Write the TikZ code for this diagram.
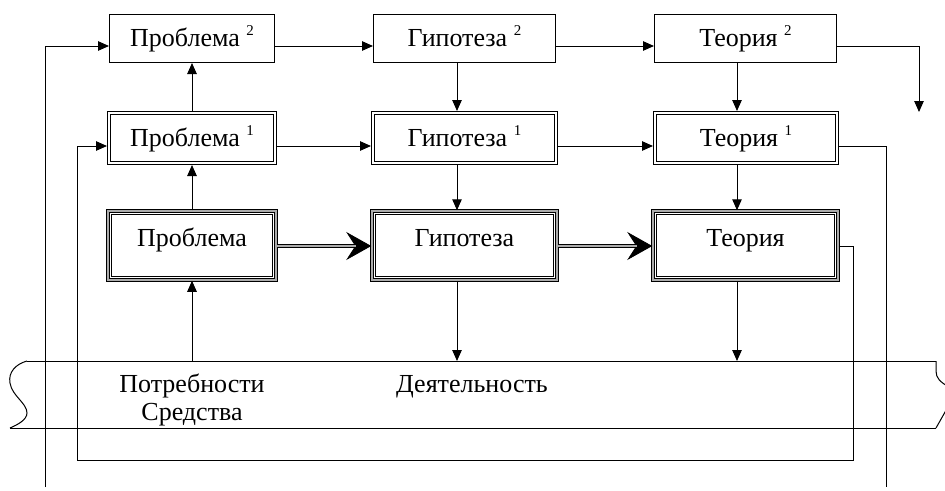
\documentclass[tikz,border=0pt]{standalone}
\usepackage{fontspec}
\setmainfont{Liberation Serif}
\usetikzlibrary{arrows.meta}
\newcommand\supnum[1]{\ \raisebox{0.42em}{\fontsize{15}{15}\selectfont #1}}
\tikzset{
  arr/.style={line width=1pt, -{Triangle[length=11pt,width=9.5pt]}},
  ln/.style={line width=1pt},
  plainbox/.style={draw, line width=1pt, inner sep=0pt, text height=15pt, text depth=0pt},
  dblbox/.style={draw, line width=1pt, inner sep=0pt, text height=16pt, text depth=0pt},
  triplebox/.style={draw, line width=1pt, double=gray!65, double distance=1.6pt,
    inner sep=0pt, text height=8.5pt, text depth=7.5pt},
  innerline/.style={line width=1.2pt},
  thinline/.style={line width=0.9pt},
  bigtip/.style={line width=0.8pt, -{Stealth[length=25pt,width=28pt,inset=9pt]}},
  doubleshaft/.style={line width=1pt, double=gray!65, double distance=1.5pt},
}
\begin{document}
\begin{tikzpicture}[x=1pt, y=-1pt, font=\fontsize{26}{30}\selectfont]
\useasboundingbox (0,0) rectangle (945,490);
\clip (0,0) rectangle (945,490);

% columns of the vertical links
\coordinate (pcol) at (192,0);
\coordinate (hcol) at (457,0);
\coordinate (tcol) at (737,0);

% top level
\node[plainbox, minimum width=165pt, minimum height=48pt] (p2) at (192,38.5) {Проблема\supnum{2}};
\node[plainbox, minimum width=182pt, minimum height=48pt] (h2) at (464.5,38.5) {Гипотеза\supnum{2}};
\node[plainbox, minimum width=182pt, minimum height=48pt] (t2) at (745.5,38.5) {Теория\supnum{2}};

% middle level
\node[dblbox, minimum width=169pt, minimum height=53pt] (p1) at (192,138) {Проблема\supnum{1}};
\node[dblbox, minimum width=186pt, minimum height=53pt] (h1) at (464.5,138) {Гипотеза\supnum{1}};
\node[dblbox, minimum width=185pt, minimum height=53pt] (t1) at (746,138) {Теория\supnum{1}};
\foreach \n in {p1,h1,t1}
  \draw[innerline] ([shift={(3.2pt,3.2pt)}]\n.south west) rectangle ([shift={(-3.2pt,-3.2pt)}]\n.north east);

% base level
\node[triplebox, minimum width=168.5pt, minimum height=69.5pt] (p0) at (192,245.5) {Проблема};
\node[triplebox, minimum width=185.5pt, minimum height=69.5pt] (h0) at (464.5,245.5) {Гипотеза};
\node[triplebox, minimum width=185.5pt, minimum height=69.5pt] (t0) at (745.5,245.5) {Теория};
\foreach \n in {p0,h0,t0}
  \draw[thinline] ([shift={(4.2pt,4.2pt)}]\n.south west) rectangle ([shift={(-4.2pt,-4.2pt)}]\n.north east);

% activity band with torn ends
\coordinate (btop) at (0,361);
\draw[ln] (27,361) -- (936,361);
\draw[ln] (10,428) -- (936,428);
\draw[ln] (27,361) .. controls (16,364) and (8,372) .. (10,383)
  .. controls (12,396) and (27,403) .. (27,413)
  .. controls (27,420) and (17,425) .. (10,428);
\draw[ln] (936,361) -- (936,371) .. controls (936,378) and (940,382) .. (949,387);
\draw[ln] (949,405) -- (936,428);
\node[anchor=base] (need) at (192,392) {Потребности};
\node[anchor=base] (means) at (192,420) {Средства};
\node[anchor=base] (act) at (472,392) {Деятельность};

% horizontal links
\draw[arr] (p2.base east) -- (h2.base west);
\draw[arr] (h2.base east) -- (t2.base west);
\draw[arr] (p1.base east) -- (h1.base west);
\draw[arr] (h1.base east) -- (t1.base west);
\foreach \a/\b in {p0/h0,h0/t0}{
  \draw[bigtip] (\a.base east) -- (\b.base west);
  \draw[doubleshaft, shorten >=15pt] (\a.base east) -- (\b.base west);
}

% vertical links
\draw[arr] (p1.north) -- (p2.south);
\draw[arr] (p0.north) -- (p1.south);
\draw[arr] (pcol |- btop) -- (p0.south);
\draw[arr] (h2.south -| hcol) -- (h1.north -| hcol);
\draw[arr] (h1.south -| hcol) -- (h0.north -| hcol);
\draw[arr] (h0.south -| hcol) -- (hcol |- btop);
\draw[arr] (t2.south -| tcol) -- (t1.north -| tcol);
\draw[arr] (t1.south -| tcol) -- (t0.north -| tcol);
\draw[arr] (t0.south -| tcol) -- (tcol |- btop);

% feedback loops
\coordinate (tout) at (919,112);
\coordinate (lbot) at (45,487);
\coordinate (rbot) at (886,487);
\coordinate (rr) at (853,460);
\coordinate (ll) at (77,460);
\draw[arr] (t2.base east) -| (tout);
\draw[ln] (t1.base east) -| (rbot);
\draw[arr] (lbot) |- (p2.base west);
\draw[arr] (t0.base east) -| (rr) -- (ll) |- (p1.base west);
\end{tikzpicture}
\end{document}
